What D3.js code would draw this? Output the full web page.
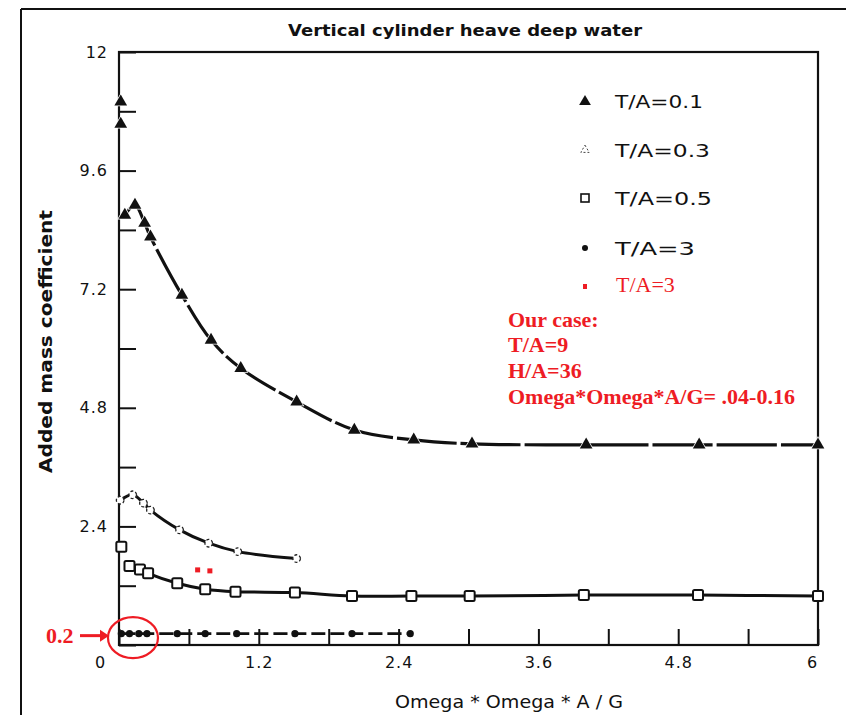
<!DOCTYPE html>
<html>
<head>
<meta charset="utf-8">
<script src="https://cdn.jsdelivr.net/npm/d3@7"></script>
<style>
  html, body { margin: 0; padding: 0; background: #fff; }
  svg { display: block; }
</style>
</head>
<body>
<svg id="chart" width="846" height="715"></svg>
<script>
// ---------- data ----------
const xTickValues = [0, 0.6, 1.2, 1.8, 2.4, 3.0, 3.6, 4.2, 4.8, 5.4, 6];
const xTickLabels = ["0", "", "1.2", "", "2.4", "", "3.6", "", "4.8", "", "6"];
const yTickValues = [0, 1.2, 2.4, 3.6, 4.8, 6.0, 7.2, 8.4, 9.6, 10.8, 12];
const yTickLabels = ["", "", "2.4", "", "4.8", "", "7.2", "", "9.6", "", "12"];

// T/A = 0.1 (filled triangles)
const ta01X = [0.05, 0.137, 0.22, 0.27, 0.54, 0.79, 1.045, 1.525, 2.02, 2.53, 3.03, 4.01, 4.98, 6.0];
const ta01Y = [8.70, 8.90, 8.54, 8.26, 7.08, 6.17, 5.60, 4.92, 4.35, 4.15, 4.07, 4.05, 4.05, 4.05];
const ta01LoneX = [0.015, 0.015];
const ta01LoneY = [10.99, 10.54];

// T/A = 0.3 (small open symbols)
const ta03X = [0.01, 0.118, 0.21, 0.27, 0.52, 0.77, 1.02, 1.525];
const ta03Y = [2.93, 3.04, 2.87, 2.73, 2.33, 2.06, 1.89, 1.75];

// T/A = 0.5 (open squares)
const ta05X = [0.09, 0.18, 0.25, 0.50, 0.74, 1.00, 1.51, 2.0, 2.51, 3.01, 3.99, 4.97, 6.0];
const ta05Y = [1.60, 1.53, 1.45, 1.25, 1.13, 1.08, 1.06, 0.99, 0.99, 0.99, 1.01, 1.01, 0.99];
const ta05LoneX = [0.02];
const ta05LoneY = [1.99];

// T/A = 3 (filled dots)
const ta3X = [0.02, 0.09, 0.17, 0.24, 0.50, 0.74, 1.01, 1.51, 2.0, 2.5];
const ta3Y = [0.23, 0.23, 0.23, 0.23, 0.23, 0.23, 0.23, 0.23, 0.23, 0.23];

// red "T/A=3" marks
const redX = [0.675, 0.78];
const redY = [1.52, 1.50];

const legendLabels = ["T/A=0.1", "T/A=0.3", "T/A=0.5", "T/A=3"];
const redLegendLabel = "T/A=3";
const noteLines = ["Our case:", "T/A=9", "H/A=36", "Omega*Omega*A/G= .04-0.16"];
const titleText = "Vertical cylinder heave deep water";
const xLabelText = "Omega * Omega * A / G";
const yLabelText = "Added mass coefficient";
const markLabel = "0.2";
const markValue = 0.23;

// ---------- drawing ----------
const svg = d3.select("#chart");
const pL = 119, pR = 818, pT = 52, pB = 645;
const x = d3.scaleLinear().domain([0, 6]).range([pL, pR]);
const y = d3.scaleLinear().domain([0, 12]).range([pB, pT]);
const blackFont = "'DejaVu Sans', sans-serif";
const redFont = "'Liberation Serif', 'Times New Roman', serif";
const red = "#ee1c24";

// outer page frame (left and top edges)
svg.append("line").attr("x1", 21).attr("x2", 21).attr("y1", 9).attr("y2", 715)
  .attr("stroke", "#111").attr("stroke-width", 2);
svg.append("line").attr("x1", 21).attr("x2", 846).attr("y1", 9).attr("y2", 9)
  .attr("stroke", "#111").attr("stroke-width", 2);

// plot frame
svg.append("rect").attr("x", pL).attr("y", pT).attr("width", pR - pL)
  .attr("height", pB - pT).attr("fill", "none").attr("stroke", "#111").attr("stroke-width", 2.2);

// axes
const xAxis = d3.axisBottom(x).tickValues(xTickValues)
  .tickFormat((d, i) => xTickLabels[i]).tickSize(-16).tickPadding(12);
const gx = svg.append("g").attr("transform", `translate(0,${pB})`).call(xAxis);
gx.select(".domain").remove();
gx.selectAll(".tick line").attr("stroke", "#111").attr("stroke-width", 2);
gx.selectAll(".tick text").attr("font-family", blackFont).attr("font-size", 16)
  .attr("fill", "#111").attr("letter-spacing", 1);
gx.selectAll(".tick text").filter((d) => d === 0).attr("dx", -19);
gx.selectAll(".tick text").filter((d) => d === 6).attr("dx", -6);

const yAxis = d3.axisLeft(y).tickValues(yTickValues)
  .tickFormat((d, i) => yTickLabels[i]).tickSize(-17).tickPadding(11);
const gy = svg.append("g").attr("transform", `translate(${pL},0)`).call(yAxis);
gy.select(".domain").remove();
gy.selectAll(".tick line").attr("stroke", "#111").attr("stroke-width", 2);
gy.selectAll(".tick text").attr("font-family", blackFont).attr("font-size", 16)
  .attr("fill", "#111").attr("letter-spacing", 1);

// title & axis labels
svg.append("text").attr("x", 288).attr("y", 36).attr("textLength", 354)
  .attr("lengthAdjust", "spacingAndGlyphs")
  .attr("font-family", blackFont).attr("font-size", 16).attr("font-weight", "bold")
  .attr("fill", "#111").text(titleText);
svg.append("text").attr("x", 395).attr("y", 708).attr("textLength", 228)
  .attr("lengthAdjust", "spacingAndGlyphs")
  .attr("font-family", blackFont).attr("font-size", 17).attr("fill", "#111").text(xLabelText);
svg.append("text").attr("transform", "translate(52,473) rotate(-90)").attr("x", 0).attr("y", 0)
  .attr("textLength", 263).attr("lengthAdjust", "spacingAndGlyphs")
  .attr("font-family", blackFont).attr("font-size", 17).attr("font-weight", "bold")
  .attr("fill", "#111").text(yLabelText);

// helpers
const pts = (xs, ys) => xs.map((v, i) => [v, ys[i]]);
const line = d3.line().x((d) => x(d[0])).y((d) => y(d[1])).curve(d3.curveCatmullRom.alpha(0.5));
const tri = d3.symbol().type(d3.symbolTriangle);

// series lines
svg.append("path").datum(pts(ta01X, ta01Y)).attr("d", line)
  .attr("fill", "none").attr("stroke", "#111").attr("stroke-width", 3.2)
  .attr("stroke-dasharray", "60,4");
svg.append("path").datum(pts(ta03X, ta03Y)).attr("d", line)
  .attr("fill", "none").attr("stroke", "#111").attr("stroke-width", 3);
svg.append("path").datum(pts(ta05X, ta05Y)).attr("d", line)
  .attr("fill", "none").attr("stroke", "#111").attr("stroke-width", 3);
svg.append("path").datum(pts(ta3X, ta3Y)).attr("d", line)
  .attr("fill", "none").attr("stroke", "#111").attr("stroke-width", 2.6)
  .attr("stroke-dasharray", "14,5");

// markers: T/A=0.1
svg.append("g").selectAll("path").data(pts(ta01X, ta01Y).concat(pts(ta01LoneX, ta01LoneY)))
  .join("path").attr("d", tri.size(70))
  .attr("transform", (d) => `translate(${x(d[0])},${y(d[1])})`)
  .attr("fill", "#111").attr("stroke", "#fff").attr("stroke-width", 1.5).attr("paint-order", "stroke");

// T/A=0.3
svg.append("g").selectAll("path").data(pts(ta03X, ta03Y))
  .join("path").attr("d", d3.symbol().type(d3.symbolCircle).size(45))
  .attr("transform", (d) => `translate(${x(d[0])},${y(d[1])})`)
  .attr("fill", "#fff").attr("stroke", "#222").attr("stroke-width", 1.3).attr("stroke-dasharray", "3,2");

// T/A=0.5
svg.append("g").selectAll("rect").data(pts(ta05X, ta05Y).concat(pts(ta05LoneX, ta05LoneY)))
  .join("rect").attr("x", (d) => x(d[0]) - 5).attr("y", (d) => y(d[1]) - 5)
  .attr("width", 10).attr("height", 10).attr("rx", 1.5)
  .attr("fill", "#fff").attr("stroke", "#111").attr("stroke-width", 2);

// T/A=3
svg.append("g").selectAll("circle").data(pts(ta3X, ta3Y))
  .join("circle").attr("cx", (d) => x(d[0])).attr("cy", (d) => y(d[1])).attr("r", 3.6)
  .attr("fill", "#111");

// red marks
svg.append("g").selectAll("rect").data(pts(redX, redY))
  .join("rect").attr("x", (d) => x(d[0]) - 2.5).attr("y", (d) => y(d[1]) - 2.5)
  .attr("width", 5).attr("height", 5).attr("fill", red);

// legend
const legX = 585, legTextX = 615;
const legRows = [101.7, 150, 198, 248];
const legLens = [88, 95, 97, 80];
const lg = svg.append("g");
lg.append("path").attr("d", tri.size(60)).attr("transform", `translate(${legX},${legRows[0]})`).attr("fill", "#111");
lg.append("path").attr("d", tri.size(30)).attr("transform", `translate(${legX},${legRows[1]})`)
  .attr("fill", "none").attr("stroke", "#444").attr("stroke-width", 1).attr("stroke-dasharray", "2,2");
lg.append("rect").attr("x", legX - 4).attr("y", legRows[2] - 4).attr("width", 8).attr("height", 8)
  .attr("fill", "#fff").attr("stroke", "#111").attr("stroke-width", 1.6);
lg.append("circle").attr("cx", legX).attr("cy", legRows[3]).attr("r", 3).attr("fill", "#111");
legendLabels.forEach((t, i) => {
  lg.append("text").attr("x", legTextX).attr("y", legRows[i] + 6.5).attr("textLength", legLens[i])
    .attr("lengthAdjust", "spacingAndGlyphs")
    .attr("font-family", blackFont).attr("font-size", 17).attr("fill", "#111").text(t);
});
lg.append("rect").attr("x", legX - 2).attr("y", 284).attr("width", 4).attr("height", 5).attr("fill", red);
lg.append("text").attr("x", 616).attr("y", 292).attr("font-family", redFont).attr("font-size", 22)
  .attr("fill", red).text(redLegendLabel);

// red note
const noteBase = [326.5, 352, 377.5, 403.5];
noteLines.forEach((t, i) => {
  svg.append("text").attr("x", 508).attr("y", noteBase[i]).attr("font-family", redFont)
    .attr("font-size", 22).attr("font-weight", "bold").attr("fill", red).text(t);
});

// red highlight: circle, arrow and label
svg.append("ellipse").attr("cx", x(0.12)).attr("cy", y(markValue) + 4).attr("rx", 25).attr("ry", 20.5)
  .attr("fill", "none").attr("stroke", red).attr("stroke-width", 2.2);
svg.append("line").attr("x1", 80).attr("x2", 100).attr("y1", y(markValue) + 2).attr("y2", y(markValue) + 2)
  .attr("stroke", red).attr("stroke-width", 3);
svg.append("path").attr("d", `M${100},${y(markValue) - 4} L${109},${y(markValue) + 2} L${100},${y(markValue) + 8} Z`)
  .attr("fill", red);
svg.append("text").attr("x", 46).attr("y", y(markValue) + 9).attr("font-family", redFont)
  .attr("font-size", 22).attr("font-weight", "bold").attr("fill", red).text(markLabel);
</script>
</body>
</html>
